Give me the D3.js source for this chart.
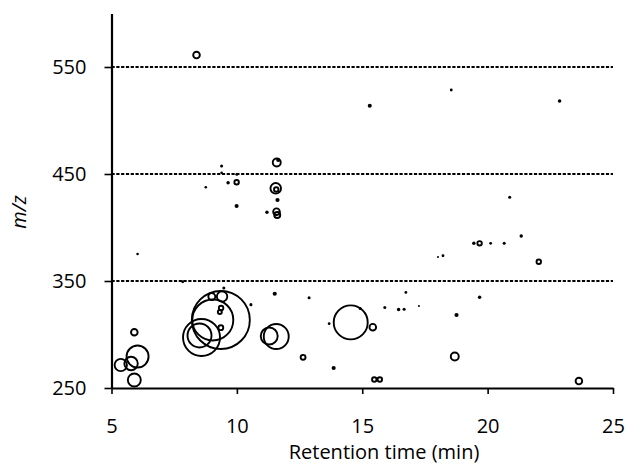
<!DOCTYPE html>
<html>
<head>
<meta charset="utf-8">
<script src="https://cdn.jsdelivr.net/npm/d3@7"></script>
<style>
  body { margin: 0; background: #fff; }
  svg { display: block; }
  .tick text { font-family: "Open Sans", sans-serif; font-size: 20px; fill: #000; }
  .lbl { font-family: "Open Sans", sans-serif; font-size: 20px; fill: #000; }
</style>
</head>
<body>
<svg id="chart"></svg>
<script>
// one entry per detected compound: retention time (min), m/z, peak intensity
const retention = [5.91, 6.04, 5.37, 5.78, 5.91, 6.04, 9.36, 9.04, 8.59, 8.51,
  9.00, 9.41, 9.37, 9.32, 9.36, 9.48, 10.56, 11.57, 11.29, 11.51,
  12.88, 12.64, 13.86, 14.54, 13.68, 14.92, 15.42, 15.90, 15.48, 15.70,
  16.45, 16.67, 16.74, 17.26, 19.68, 18.76, 18.69, 23.64, 18.02, 18.22,
  19.45, 19.68, 20.12, 20.66, 21.34, 22.04, 20.88, 15.30, 18.55, 22.87,
  8.39, 9.39, 9.39, 10.00, 8.76, 9.65, 9.99, 9.99, 11.59, 11.65,
  11.55, 11.57, 11.62, 11.20, 11.58, 11.61, 7.84]
const mz = [302.1, 279.4, 271.5, 272.9, 257.5, 375.2, 313.6, 313.6, 297.2, 299.1,
  335.5, 335.5, 324.8, 321.0, 306.4, 343.5, 327.9, 298.1, 298.6, 338.1,
  334.4, 278.7, 268.7, 311.3, 310.1, 324.3, 306.8, 325.2, 257.9, 257.9,
  323.4, 323.6, 339.3, 326.6, 334.8, 318.2, 279.4, 256.5, 372.4, 373.6,
  385.2, 385.2, 385.2, 385.2, 392.1, 368.0, 428.2, 513.8, 528.5, 518.2,
  561.2, 457.5, 451.2, 449.7, 437.6, 441.9, 442.3, 420.1, 460.7, 463.1,
  436.6, 435.5, 425.7, 414.2, 414.8, 411.7, 349.3]
const intensity = [11, 121, 38, 45, 42, 1, 841, 420, 342, 144,
  12, 27, 5, 4, 6, 1.5, 1.5, 156, 72, 3.2,
  1.5, 6, 3.2, 289, 1.2, 1.5, 11, 1.5, 5, 5,
  2, 1.5, 1.2, 0.5, 2, 3.2, 16, 11, 0.5, 1.2,
  2, 5, 1.2, 1.5, 2, 5, 1.5, 3, 1.2, 2.2,
  11, 1.5, 1, 1.5, 1, 2, 5, 3, 16, 3.2,
  28, 5, 3.2, 2, 11, 9, 1.2]

const xTicks = [5, 10, 15, 20, 25]
const yTicks = [250, 350, 450, 550]
const guideLines = [350, 450, 550]

const width = 628, height = 467

const svg = d3.select("#chart")
  .attr("width", width)
  .attr("height", height)

const x = d3.scaleLinear().domain([5, 25]).range([111.5, 613])
const y = d3.scaleLinear().domain([250, 600]).range([388, 13.5])
const r = d3.scaleSqrt().domain([0, 841]).range([0, 29])

const points = retention.map((t, i) => ({t: t, mz: mz[i], size: intensity[i]}))

// dashed guide lines
svg.append("g")
  .selectAll("line")
  .data(guideLines)
  .enter().append("line")
  .attr("x1", x(5))
  .attr("x2", x(25))
  .attr("y1", d => y(d))
  .attr("y2", d => y(d))
  .attr("stroke", "#000")
  .attr("stroke-width", 2)
  .attr("stroke-dasharray", "3.2,1.6")

// bubbles
svg.append("g")
  .selectAll("circle")
  .data(points)
  .enter().append("circle")
  .attr("cx", d => x(d.t))
  .attr("cy", d => y(d.mz))
  .attr("r", d => r(d.size) < 2 ? r(d.size) + 0.3 : r(d.size))
  .attr("fill", d => r(d.size) < 2 ? "#000" : "none")
  .attr("stroke", d => r(d.size) < 2 ? "none" : "#000")
  .attr("stroke-width", 1.9)

// axes
const xAxis = svg.append("g")
  .attr("transform", `translate(0,${y(250)})`)
  .call(d3.axisBottom(x).tickValues(xTicks).tickSize(6).tickSizeOuter(0).tickPadding(25))
xAxis.select(".domain").attr("stroke", "#000").attr("stroke-width", 2.2)
xAxis.selectAll(".tick line").attr("stroke", "#000").attr("stroke-width", 1.6)

const yAxis = svg.append("g")
  .attr("transform", `translate(${x(5)},0)`)
  .call(d3.axisLeft(y).tickValues(yTicks).tickSize(7).tickSizeOuter(0).tickPadding(18))
yAxis.select(".domain").attr("stroke", "#000").attr("stroke-width", 2.2)
yAxis.selectAll(".tick line").attr("stroke", "#000").attr("stroke-width", 1.6)

// axis titles
svg.append("text")
  .attr("class", "lbl")
  .attr("x", 384)
  .attr("y", 459)
  .attr("text-anchor", "middle")
  .text("Retention time (min)")

svg.append("text")
  .attr("class", "lbl")
  .attr("transform", "translate(26,212) rotate(-90)")
  .attr("text-anchor", "middle")
  .style("font-style", "italic")
  .text("m/z")
</script>
</body>
</html>
